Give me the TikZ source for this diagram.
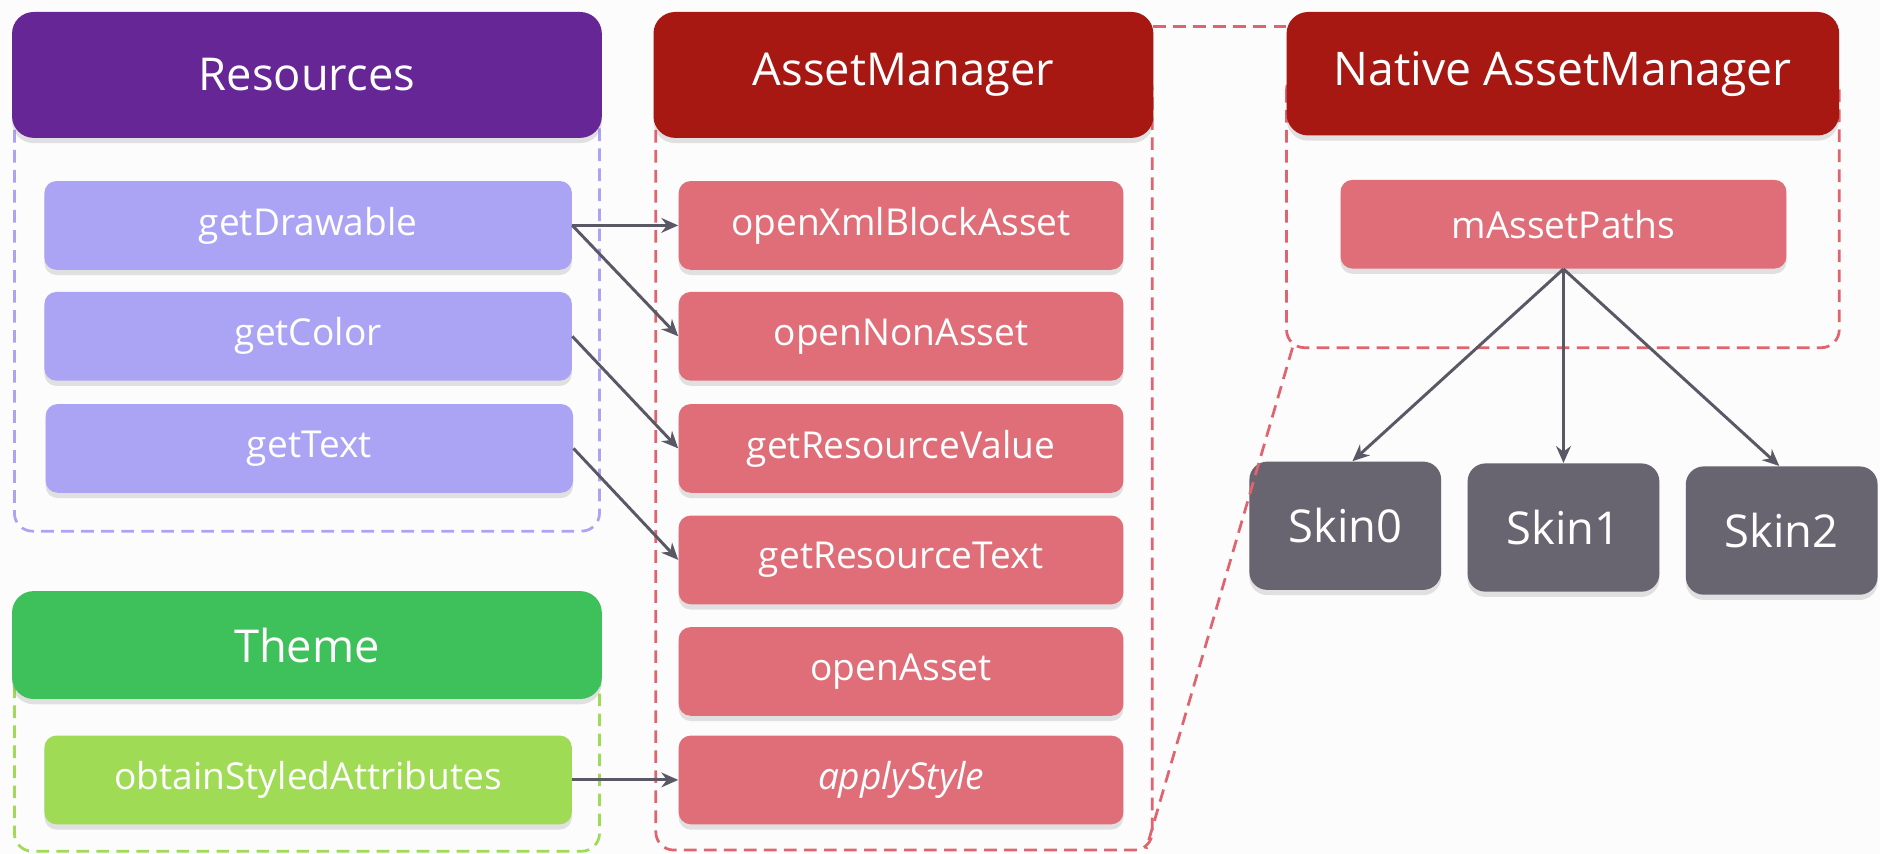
\documentclass[tikz,border=0pt]{standalone}
\usepackage{fontspec}
\setmainfont{Open Sans}
\usetikzlibrary{arrows.meta,shadows}
\definecolor{respurple}{HTML}{662696}
\definecolor{reslav}{HTML}{ABA4F5}
\definecolor{amred}{HTML}{A81812}
\definecolor{ampink}{HTML}{E06E78}
\definecolor{amdash}{HTML}{E0646E}
\definecolor{thgreen}{HTML}{3EC15A}
\definecolor{thlight}{HTML}{A0DB55}
\definecolor{skingrey}{HTML}{686470}
\definecolor{arrowgrey}{HTML}{5A5864}
\definecolor{bgcol}{HTML}{FCFCFC}
\begin{document}
\begin{tikzpicture}[x=0.02cm,y=-0.02cm,
  shd/.style={drop shadow={shadow xshift=0pt,shadow yshift=-2.5pt,opacity=0.22}},
  hdr/.style={shd,rounded corners=0.36cm,text=white,font=\fontsize{21.5}{24}\selectfont,inner sep=0pt},
  item/.style={shd,rounded corners=0.2cm,text=white,font=\fontsize{17.6}{20}\selectfont,inner sep=0pt,minimum height=1.48cm},
  resitem/.style={item,fill=reslav,minimum width=8.8cm},
  amitem/.style={item,fill=ampink,minimum width=7.42cm},
  skin/.style={shd,rounded corners=0.3cm,fill=skingrey,text=white,font=\fontsize{21.5}{24}\selectfont,minimum width=3.2cm,minimum height=2.14cm,inner sep=0pt},
  grp/.style={line width=1.3pt,dash pattern=on 6pt off 3.5pt,rounded corners=0.3cm},
  conn/.style={draw=arrowgrey,line width=1.4pt,-{Stealth[length=8pt,width=7pt]}}
]
\fill[bgcol] (0,0) rectangle (1568,712);
\useasboundingbox (0,0) rectangle (1568,712);

% group frames
\draw[grp,draw=reslav] (12,60) rectangle (500,443);
\draw[grp,draw=thlight] (12,540) rectangle (500,710);
\draw[grp,draw=amdash] (547,60) rectangle (961,709);
\draw[grp,draw=amdash] (1073,60) rectangle (1534,290);

% headers
\node[hdr,fill=respurple,minimum width=9.84cm,minimum height=2.1cm] (res) at (256,62.5) {Resources};
\node[hdr,fill=thgreen,minimum width=9.84cm,minimum height=1.8cm] (theme) at (256,538) {Theme};
\node[hdr,fill=amred,minimum width=8.34cm,minimum height=2.1cm] (am) at (753.5,62.5) {AssetManager};
\node[hdr,fill=amred,minimum width=9.22cm,minimum height=2.06cm,font=\fontsize{22}{24}\selectfont] (nam) at (1303.5,61.5) {Native AssetManager};

% Resources items
\node[resitem] (getDrawable) at (257,188) {getDrawable};
\node[resitem] (getColor) at (257,280.5) {getColor};
\node[resitem] (getText) at (258,374) {getText};
\node[item,fill=thlight,minimum width=8.8cm] (obtain) at (257,650.5) {obtainStyledAttributes};

% AssetManager items
\node[amitem] (openXml) at (751.5,188) {openXmlBlockAsset};
\node[amitem] (openNon) at (751.5,280.5) {openNonAsset};
\node[amitem] (getResVal) at (751.5,374) {getResourceValue};
\node[amitem] (getResText) at (751.5,467) {getResourceText};
\node[amitem] (openAsset) at (751.5,560) {openAsset};
\node[amitem] (applyStyle) at (751.5,650.5) {\itshape applyStyle};

% Native
\node[amitem,minimum width=7.44cm] (mpaths) at (1304,187) {mAssetPaths};
\node[skin] (skin0) at (1122,438.5) {Skin0};
\node[skin] (skin1) at (1304,440) {Skin1};
\node[skin] (skin2) at (1486,442.5) {Skin2};

% dashed links between AssetManager and Native
\coordinate (amtop) at (962,22);
\coordinate (namleft) at (1073,22);
\coordinate (nambl) at (1078,290);
\coordinate (ambr) at (956,708);
\draw[line width=1.3pt,dash pattern=on 6pt off 3.5pt,draw=amdash] (amtop) -- (namleft);
\draw[line width=1.3pt,dash pattern=on 6pt off 3.5pt,draw=amdash] (nambl) -- (ambr);

% arrows
\draw[conn] (getDrawable.east) -- (openXml.west);
\draw[conn] (getDrawable.east) -- (openNon.west);
\draw[conn] (getColor.east) -- (getResVal.west);
\draw[conn] (getText.east) -- (getResText.west);
\draw[conn] (obtain.east) -- (applyStyle.west);
\draw[conn] (mpaths.south) -- ([xshift=0.12cm]skin0.north);
\draw[conn] (mpaths.south) -- (skin1.north);
\draw[conn] (mpaths.south) -- ([xshift=-0.04cm]skin2.north);
\end{tikzpicture}
\end{document}
